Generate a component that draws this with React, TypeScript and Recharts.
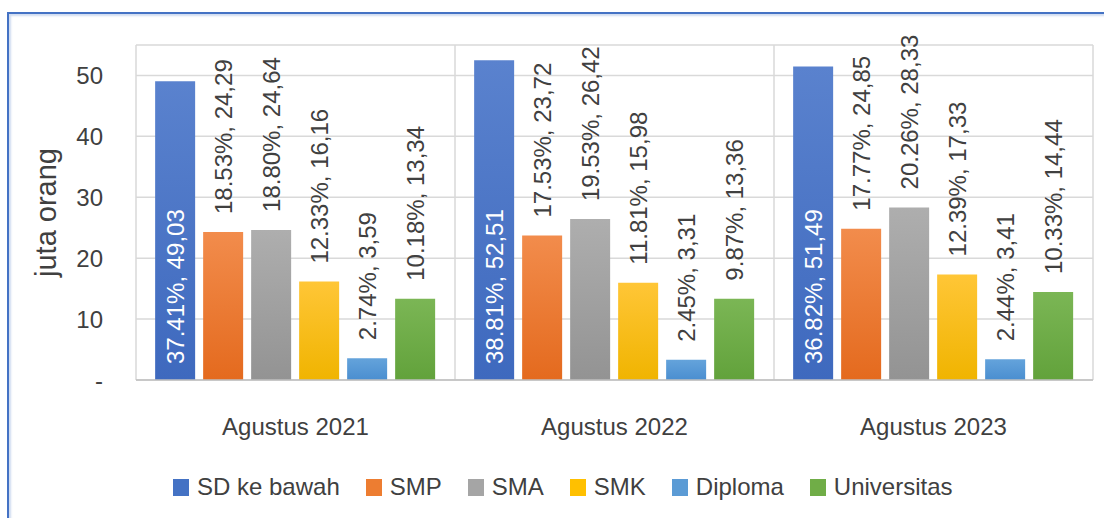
import React from 'react';
import { BarChart, Bar, XAxis, YAxis, CartesianGrid, Legend, LabelList } from 'recharts';

const categories = ['Agustus 2021', 'Agustus 2022', 'Agustus 2023'];
const seriesNames = ['SD ke bawah', 'SMP', 'SMA', 'SMK', 'Diploma', 'Universitas'];
const sdValues = [49.03, 52.51, 51.49];
const smpValues = [24.29, 23.72, 24.85];
const smaValues = [24.64, 26.42, 28.33];
const smkValues = [16.16, 15.98, 17.33];
const diplomaValues = [3.59, 3.31, 3.41];
const univValues = [13.34, 13.36, 14.44];
const sdPct = [37.41, 38.81, 36.82];
const smpPct = [18.53, 17.53, 17.77];
const smaPct = [18.8, 19.53, 20.26];
const smkPct = [12.33, 11.81, 12.39];
const diplomaPct = [2.74, 2.45, 2.44];
const univPct = [10.18, 9.87, 10.33];
const yTicks = [0, 10, 20, 30, 40, 50];

const FONT = '"Liberation Sans", Arial, sans-serif';
const TEXT = '#404040';

const series = [
  { key: 's0', values: sdValues, pct: sdPct, top: '#5A82CE', bottom: '#3E69BE', legend: '#4472C4' },
  { key: 's1', values: smpValues, pct: smpPct, top: '#F28C4C', bottom: '#E46A1E', legend: '#ED7D31' },
  { key: 's2', values: smaValues, pct: smaPct, top: '#AEAEAE', bottom: '#939393', legend: '#A5A5A5' },
  { key: 's3', values: smkValues, pct: smkPct, top: '#FFC637', bottom: '#F0B400', legend: '#FFC000' },
  { key: 's4', values: diplomaValues, pct: diplomaPct, top: '#64A3DB', bottom: '#4A8ED0', legend: '#5B9BD5' },
  { key: 's5', values: univValues, pct: univPct, top: '#7BB655', bottom: '#62A23B', legend: '#70AD47' },
];

const data = categories.map((c, i) => {
  const row: any = { name: c };
  series.forEach((s) => {
    row[s.key] = s.values[i];
  });
  return row;
});

const fmt = (v: number) => v.toFixed(2).replace('.', ',');

const makeLabel = (pct: number[], inside: boolean) => (props: any) => {
  const x = Number(props.x);
  const y = Number(props.y);
  const w = Number(props.width);
  const h = Number(props.height);
  const idx = props.index;
  const cx = x + w / 2;
  const ty = inside ? y + h - 16 : y - 18;
  const text = `${pct[idx].toFixed(2)}%, ${fmt(Number(props.value))}`;
  return (
    <text
      x={cx}
      y={ty}
      transform={`rotate(-90 ${cx} ${ty})`}
      textAnchor="start"
      dominantBaseline="central"
      fill={inside ? '#FFFFFF' : TEXT}
      fontSize={24}
      fontFamily={FONT}
    >
      {text}
    </text>
  );
};

const renderLegend = () => (
  <div style={{ display: 'flex', alignItems: 'center', height: 30, fontFamily: FONT, fontSize: 24, color: TEXT }}>
    {series.map((s, i) => (
      <div key={s.key} style={{ display: 'flex', alignItems: 'center', marginRight: i < series.length - 1 ? 26 : 0 }}>
        <div style={{ width: 16, height: 17, background: s.legend, marginRight: 8 }} />
        <span style={{ whiteSpace: 'nowrap' }}>{seriesNames[i]}</span>
      </div>
    ))}
  </div>
);

const verticalGen = ({ offset }: any) => {
  const n = categories.length;
  const pts: number[] = [];
  for (let i = 0; i <= n; i++) pts.push(offset.left + (offset.width * i) / n);
  return pts;
};

export default function App() {
  return (
    <div style={{ position: 'absolute', left: 0, top: 0, width: 1104, height: 518, overflow: 'hidden', background: '#fff' }}>
      <div
        style={{
          position: 'absolute',
          left: 7,
          top: 12,
          width: 1200,
          height: 600,
          borderLeft: '2px solid #4472C4',
          borderTop: '2px solid #4472C4',
          boxShadow: 'inset 2px 2px 2px rgba(68,114,196,0.25)',
        }}
      />
      <div style={{ position: 'absolute', left: 0, top: 0 }}>
        <BarChart
          width={1104}
          height={518}
          data={data}
          margin={{ top: 45, right: 11, left: 0, bottom: 16 }}
          barCategoryGap="6%"
          barGap={8}
        >
          <defs>
            {series.map((s) => (
              <linearGradient key={s.key} id={`g-${s.key}`} x1="0" y1="0" x2="0" y2="1">
                <stop offset="0%" stopColor={s.top} />
                <stop offset="100%" stopColor={s.bottom} />
              </linearGradient>
            ))}
          </defs>
          <CartesianGrid
            stroke="#D9D9D9"
            strokeWidth={1.5}
            verticalCoordinatesGenerator={verticalGen}
          />
          <XAxis
            dataKey="name"
            tickSize={0}
            tickMargin={38}
            height={92}
            axisLine={{ stroke: '#BFBFBF', strokeWidth: 1.5 }}
            tickLine={false}
            tick={{ fontSize: 24, fill: TEXT, fontFamily: FONT }}
          />
          <YAxis
            width={136}
            domain={[0, 55]}
            ticks={yTicks}
            tickSize={0}
            tickMargin={33}
            axisLine={false}
            tickLine={false}
            tickFormatter={(v: number) => (v === 0 ? '-' : String(v))}
            tick={{ fontSize: 24, fill: TEXT, fontFamily: FONT }}
            label={{
              value: 'juta orang',
              angle: -90,
              position: 'insideLeft',
              offset: 46,
              style: { fontSize: 29, fill: TEXT, fontFamily: FONT, textAnchor: 'middle' },
            }}
          />
          <Legend
            verticalAlign="bottom"
            content={renderLegend}
            wrapperStyle={{ left: 173, width: 'auto' }}
          />
          {series.map((s, i) => (
            <Bar
              key={s.key}
              dataKey={s.key}
              name={seriesNames[i]}
              fill={`url(#g-${s.key})`}
              isAnimationActive={false}
            >
              <LabelList dataKey={s.key} content={makeLabel(s.pct, i === 0)} />
            </Bar>
          ))}
        </BarChart>
      </div>
    </div>
  );
}
